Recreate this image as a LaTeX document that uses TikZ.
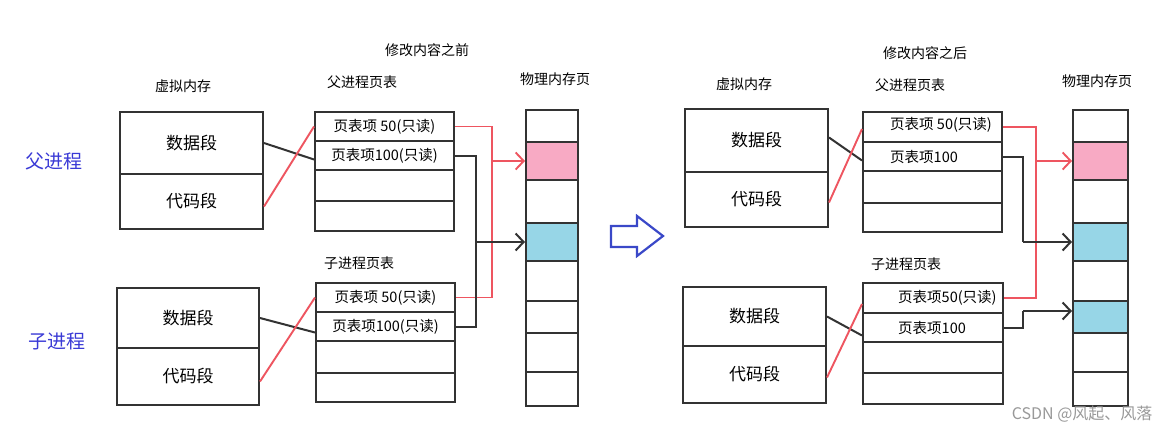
\documentclass[tikz,border=0pt]{standalone}
\usepackage{fontspec}
\setmainfont{Noto Sans CJK SC}
\usetikzlibrary{arrows.meta}
\definecolor{pinkc}{HTML}{F8AAC4}
\definecolor{bluec}{HTML}{97D6E7}
\definecolor{redl}{HTML}{EE5560}
\definecolor{bluet}{HTML}{3A3AD6}
\definecolor{linec}{HTML}{333333}
\definecolor{arrowb}{HTML}{3A48C8}
\tikzset{
  cell/.style={draw=linec,line width=2pt,inner sep=0pt,minimum width=#1},
  seg/.style={font=\fontsize{17}{17}\selectfont},
  pte/.style={font=\fontsize{14.5}{14.5}\selectfont},
  lbl/.style={font=\fontsize{14}{14}\selectfont},
  proc/.style={font=\fontsize{19}{19}\selectfont,text=bluet},
  blk/.style={draw=linec,line width=2pt},
  red/.style={draw=redl,line width=1.9pt},
  tip/.style={-{Straight Barb[length=8pt,width=17pt]}}
}
\begin{document}
\begin{tikzpicture}[x=1pt,y=-1pt]
\useasboundingbox[fill=white] (0,0) rectangle (1169,434);

% ---------- labels ----------
\node[lbl] (lbefore) at (427,50) {修改内容之前};
\node[lbl] (lvm) at (183,86) {虚拟内存};
\node[lbl] (lppt) at (362,82) {父进程页表};
\node[lbl] (lphys) at (555,79) {物理内存页};
\node[lbl] (lcpt) at (359,263) {子进程页表};
\node[proc] (lpar) at (54,161) {父进程};
\node[proc] (lchi) at (57,341) {子进程};

\node[lbl] (rafter) at (925,53) {修改内容之后};
\node[lbl] (rvm) at (744,84) {虚拟内存};
\node[lbl] (rppt) at (910,85) {父进程页表};
\node[lbl] (rphys) at (1097,81) {物理内存页};
\node[lbl] (rcpt) at (906,264) {子进程页表};

% ---------- left: virtual memory ----------
\node[cell=143pt,minimum height=62pt,seg] (vpd) at (191.5,143) {数据段};
\node[cell=143pt,minimum height=55pt,seg] (vpc) at (191.5,201.5) {代码段};
\node[cell=142pt,minimum height=60pt,seg] (vcd) at (188,318) {数据段};
\node[cell=142pt,minimum height=57pt,seg] (vcc) at (188,376.5) {代码段};

% ---------- left: page tables ----------
\node[cell=139pt,minimum height=29pt,pte] (pt1) at (384.5,126.5) {页表项 50(只读)};
\node[cell=139pt,minimum height=29pt,pte] (pt2) at (384.5,155.5) {页表项100(只读)};
\node[cell=139pt,minimum height=31pt] (pt3) at (384.5,185.5) {};
\node[cell=139pt,minimum height=30pt] (pt4) at (384.5,216) {};

\node[cell=139pt,minimum height=29pt,pte] (ct1) at (385.5,297.5) {页表项 50(只读)};
\node[cell=139pt,minimum height=29pt,pte] (ct2) at (385.5,326.5) {页表项100(只读)};
\node[cell=139pt,minimum height=32pt] (ct3) at (385.5,357) {};
\node[cell=139pt,minimum height=29pt] (ct4) at (385.5,387.5) {};

% ---------- left: physical pages ----------
\node[cell=52pt,minimum height=32pt] (lm1) at (552,126) {};
\node[cell=52pt,minimum height=38pt,fill=pinkc] (lm2) at (552,161) {};
\node[cell=52pt,minimum height=43pt] (lm3) at (552,201.5) {};
\node[cell=52pt,minimum height=38pt,fill=bluec] (lm4) at (552,242) {};
\node[cell=52pt,minimum height=40pt] (lm5) at (552,281) {};
\node[cell=52pt,minimum height=32pt] (lm6) at (552,317) {};
\node[cell=52pt,minimum height=39pt] (lm7) at (552,352.5) {};
\node[cell=52pt,minimum height=34pt] (lm8) at (552,389) {};

% ---------- left: connectors ----------
\draw[blk] (vpd.east) -- ([yshift=-4pt]pt2.west);
\draw[red] ([yshift=-5pt]vpc.east) -- (pt1.west);
\draw[blk] (vcd.east) -- ([yshift=-6pt]ct2.west);
\draw[red] ([yshift=-5pt]vcc.east) -- (ct1.west);

\coordinate (lrx) at (492,0);
\coordinate (lbx) at (476,0);
\draw[red] (pt1.east) -| (lrx |- ct1.east) -- (ct1.east);
\draw[red,tip] (lrx |- lm2.west) -- (lm2.west);
\draw[blk] (pt2.east) -| (lbx |- ct2.east) -- (ct2.east);
\draw[blk,tip] (lbx |- lm4.west) -- (lm4.west);

% ---------- middle arrow ----------
\draw[draw=arrowb,line width=2.2pt,line join=miter]
  (611,226) -- (637,226) -- (637,216) -- (663,236) -- (637,256) -- (637,247) -- (611,247) -- cycle;

% ---------- right: virtual memory ----------
\node[cell=143pt,minimum height=63pt,seg] (Vpd) at (756.5,140.5) {数据段};
\node[cell=143pt,minimum height=55pt,seg] (Vpc) at (756.5,199.5) {代码段};
\node[cell=143pt,minimum height=59pt,seg] (Vcd) at (754.5,316.5) {数据段};
\node[cell=143pt,minimum height=57pt,seg] (Vcc) at (754.5,374.5) {代码段};

% ---------- right: page tables ----------
\node[cell=139pt,minimum height=30pt] (Pt1) at (932.5,127) {};
\node[cell=139pt,minimum height=29pt] (Pt2) at (932.5,156.5) {};
\node[cell=139pt,minimum height=32pt] (Pt3) at (932.5,187) {};
\node[cell=139pt,minimum height=29pt] (Pt4) at (932.5,217.5) {};
\node[pte,anchor=west,inner sep=0pt] (Pt1t) at (890,125) {页表项 50(只读)};
\node[pte,anchor=west,inner sep=0pt] (Pt2t) at (890,157) {页表项100};

\node[cell=140pt,minimum height=30pt] (Ct1) at (933,298) {};
\node[cell=140pt,minimum height=29pt] (Ct2) at (933,327.5) {};
\node[cell=140pt,minimum height=31pt] (Ct3) at (933,357.5) {};
\node[cell=140pt,minimum height=31pt] (Ct4) at (933,388.5) {};
\node[pte,anchor=west,inner sep=0pt] (Ct1t) at (898,298) {页表项50(只读)};
\node[pte,anchor=west,inner sep=0pt] (Ct2t) at (898,328) {页表项100};

% ---------- right: physical pages ----------
\node[cell=55pt,minimum height=32pt] (rm1) at (1100.5,126) {};
\node[cell=55pt,minimum height=38pt,fill=pinkc] (rm2) at (1100.5,161) {};
\node[cell=55pt,minimum height=43pt] (rm3) at (1100.5,201.5) {};
\node[cell=55pt,minimum height=38pt,fill=bluec] (rm4) at (1100.5,242) {};
\node[cell=55pt,minimum height=40pt] (rm5) at (1100.5,281) {};
\node[cell=55pt,minimum height=32pt,fill=bluec] (rm6) at (1100.5,317) {};
\node[cell=55pt,minimum height=39pt] (rm7) at (1100.5,352.5) {};
\node[cell=55pt,minimum height=34pt] (rm8) at (1100.5,389) {};

% ---------- right: connectors ----------
\draw[blk] ([yshift=3pt]Vpd.east) -- ([yshift=-4pt]Pt2.west);
\draw[red] ([yshift=-3pt]Vpc.east) -- ([yshift=-2pt]Pt1.west);
\draw[blk] (Vcd.east) -- ([yshift=-8pt]Ct2.west);
\draw[red] ([yshift=-3pt]Vcc.east) -- ([yshift=-6pt]Ct1.west);

\coordinate (rrx) at (1036,0);
\coordinate (rbx) at (1023,0);
\draw[red] (Pt1.east) -| (rrx |- Ct1.east) -- (Ct1.east);
\draw[red,tip] (rrx |- rm2.west) -- (rm2.west);
\draw[blk] (Pt2.east) -| (rbx |- rm4.west);
\draw[blk,tip] (rbx |- rm4.west) -- (rm4.west);
\coordinate (rc2) at (1023,311);
\draw[blk] (Ct2.east) -| (rc2);
\draw[blk,tip] (rc2) -- (rc2 -| rm6.west);

% ---------- watermark ----------
\node[font=\fontsize{16}{16}\selectfont,text=black!40,anchor=east] (wm) at (1156,414) {CSDN @风起、风落};
\end{tikzpicture}
\end{document}
